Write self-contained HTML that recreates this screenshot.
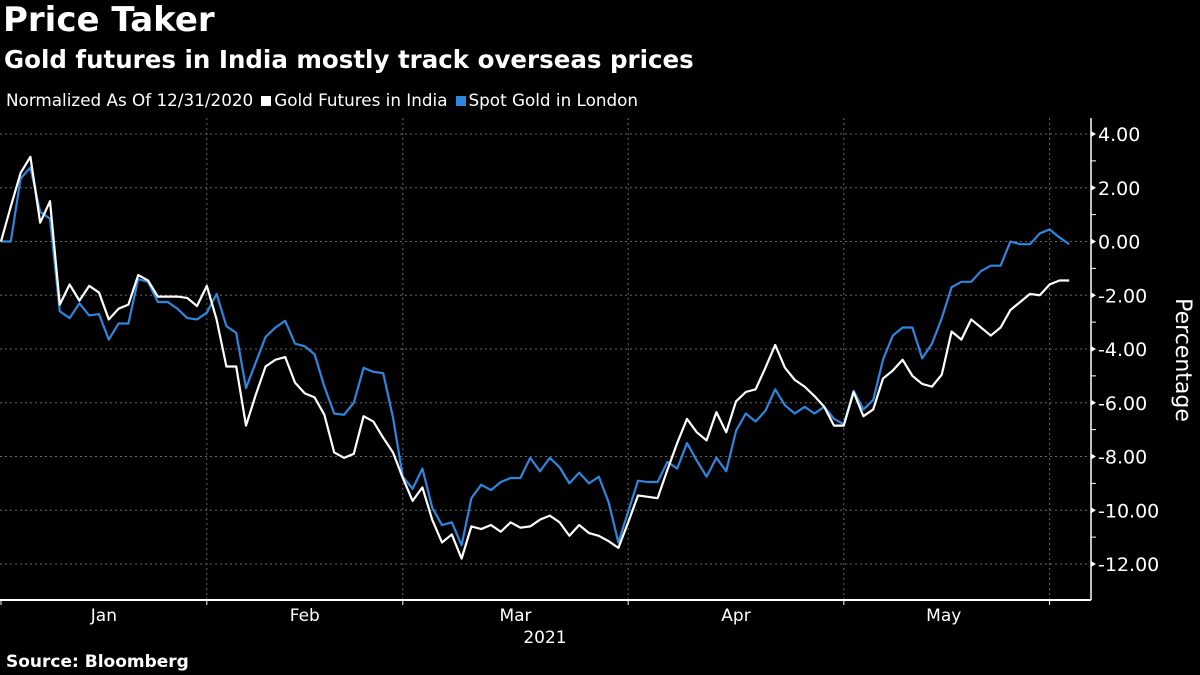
<!DOCTYPE html>
<html><head><meta charset="utf-8"><style>
html,body{margin:0;padding:0;background:#000;width:1200px;height:675px;overflow:hidden;font-family:"DejaVu Sans","Liberation Sans",sans-serif;color:#fff}
#title{position:absolute;left:3px;top:0px;font-size:34px;font-weight:bold}
#subtitle{position:absolute;left:4px;top:45px;font-size:24.5px;font-weight:bold}
#legend{position:absolute;left:6px;top:90px;font-size:16.8px;display:flex;gap:8px;align-items:center}
.sw{display:inline-block;width:10px;height:10px;margin-right:3px}
#source{position:absolute;left:6px;top:652px;font-size:17px;font-weight:bold}
svg{position:absolute;left:0;top:0}
</style></head><body>
<div id="title">Price Taker</div>
<div id="subtitle">Gold futures in India mostly track overseas prices</div>
<div id="legend">
<span>Normalized As Of 12/31/2020</span>
<span><span class="sw" style="background:#fff"></span>Gold Futures in India</span>
<span><span class="sw" style="background:#2e86de"></span>Spot Gold in London</span>
</div>
<div id="source">Source: Bloomberg</div>
<svg id="chart" width="1200" height="675"></svg>
<script>
const india=[0,1.3,2.55,3.15,0.7,1.5,-2.35,-1.6,-2.2,-1.65,-1.9,-2.9,-2.5,-2.35,-1.25,-1.45,-2.05,-2.05,-2.05,-2.1,-2.4,-1.65,-2.9,-4.65,-4.65,-6.85,-5.7,-4.65,-4.4,-4.3,-5.25,-5.65,-5.8,-6.45,-7.85,-8.05,-7.9,-6.5,-6.7,-7.3,-7.85,-8.8,-9.65,-9.15,-10.35,-11.2,-10.9,-11.8,-10.6,-10.7,-10.55,-10.8,-10.45,-10.65,-10.6,-10.35,-10.2,-10.45,-10.95,-10.55,-10.85,-10.95,-11.15,-11.4,-10.45,-9.45,-9.5,-9.55,-8.5,-7.5,-6.6,-7.1,-7.4,-6.35,-7.1,-5.95,-5.6,-5.5,-4.7,-3.85,-4.7,-5.15,-5.4,-5.75,-6.15,-6.85,-6.85,-5.6,-6.5,-6.25,-5.1,-4.8,-4.4,-5.0,-5.3,-5.4,-4.95,-3.35,-3.65,-2.9,-3.2,-3.5,-3.2,-2.55,-2.25,-1.95,-2.0,-1.6,-1.45,-1.45];
const london=[0,0,2.35,2.75,1.1,0.85,-2.6,-2.85,-2.3,-2.75,-2.7,-3.65,-3.05,-3.05,-1.4,-1.5,-2.25,-2.25,-2.5,-2.85,-2.9,-2.65,-1.95,-3.15,-3.4,-5.45,-4.5,-3.55,-3.2,-2.95,-3.8,-3.9,-4.2,-5.4,-6.4,-6.45,-6.0,-4.7,-4.85,-4.9,-6.55,-8.75,-9.2,-8.45,-9.9,-10.55,-10.45,-11.3,-9.55,-9.05,-9.25,-8.95,-8.8,-8.8,-8.05,-8.55,-8.05,-8.4,-9.0,-8.6,-9.0,-8.75,-9.7,-11.2,-10.05,-8.9,-8.95,-8.95,-8.2,-8.45,-7.5,-8.15,-8.75,-8.05,-8.55,-7.05,-6.4,-6.7,-6.3,-5.5,-6.1,-6.4,-6.15,-6.4,-6.15,-6.6,-6.8,-5.55,-6.25,-5.9,-4.4,-3.5,-3.2,-3.2,-4.35,-3.8,-2.85,-1.7,-1.5,-1.5,-1.1,-0.9,-0.9,0.0,-0.1,-0.1,0.3,0.45,0.15,-0.1];
const yTicks=[4,2,0,-2,-4,-6,-8,-10,-12];
const yTickLabels=["4.00","2.00","0.00","-2.00","-4.00","-6.00","-8.00","-10.00","-12.00"];
const months=["Jan","Feb","Mar","Apr","May"];
const monthStarts=[0,21,41,64,86,107];
const monthLabelPos=[10.5,31,52.5,75,96.2];
const NS="http://www.w3.org/2000/svg";
const svg=document.getElementById('chart');
const X=i=>1+i*9.8;
const Y=v=>241.5-v*26.875;
function el(t,a){const e=document.createElementNS(NS,t);for(const k in a)e.setAttribute(k,a[k]);svg.appendChild(e);return e;}
yTicks.forEach((v,k)=>{
 const g=el('line',{x1:0,x2:1091,y1:Y(v),y2:Y(v),stroke:'#666','stroke-dasharray':'2,3','stroke-width':1});
 
 
 const t=el('text',{x:1098,y:Y(v)+7,fill:'#fff','font-size':19,'font-family':'DejaVu Sans, sans-serif'});
 t.textContent=yTickLabels[k];
 
 
 el('path',{d:`M1091 ${Y(v)-3}L1096 ${Y(v)}L1091 ${Y(v)+3}Z`,fill:'#fff'});
 if(v>-12) el('line',{x1:1091,x2:1096,y1:Y(v-1),y2:Y(v-1),stroke:'#fff'});
});
monthStarts.slice(1,6).forEach(i=>{
 const g=el('line',{x1:X(i),x2:X(i),y1:118,y2:600,stroke:'#666','stroke-dasharray':'2,3'});
 
 
 el('line',{x1:X(i),x2:X(i),y1:600,y2:605,stroke:'#fff'});
});
el('line',{x1:1,x2:1,y1:600,y2:605,stroke:'#fff'});
months.forEach((m,k)=>{
 const t=el('text',{x:X(monthLabelPos[k]),y:621,fill:'#fff','font-size':17,'text-anchor':'middle','font-family':'DejaVu Sans, sans-serif'});
 t.textContent=m;
 
 
});
const yr=el('text',{x:545,y:643,fill:'#fff','font-size':17,'text-anchor':'middle','font-family':'DejaVu Sans, sans-serif'});
yr.textContent='2021';


const ax=el('line',{x1:0,x2:1091,y1:600,y2:600,stroke:'#fff','stroke-width':2});


const ay=el('line',{x1:1091,x2:1091,y1:118,y2:600,stroke:'#fff','stroke-width':1.5});


const yt=el('text',{transform:'translate(1176,360) rotate(90)',fill:'#fff','font-size':22,'text-anchor':'middle','font-family':'DejaVu Sans, sans-serif'});
yt.textContent='Percentage';


function line(d,c,name){
 const p=el('polyline',{points:d.map((v,i)=>X(i)+','+Y(v)).join(' '),fill:'none',stroke:c,'stroke-width':2.2,'stroke-linejoin':'round'});
 
 
}
line(london,'#2e86de','london-series-line');
line(india,'#ffffff','india-series-line');
</script>
</body></html>
